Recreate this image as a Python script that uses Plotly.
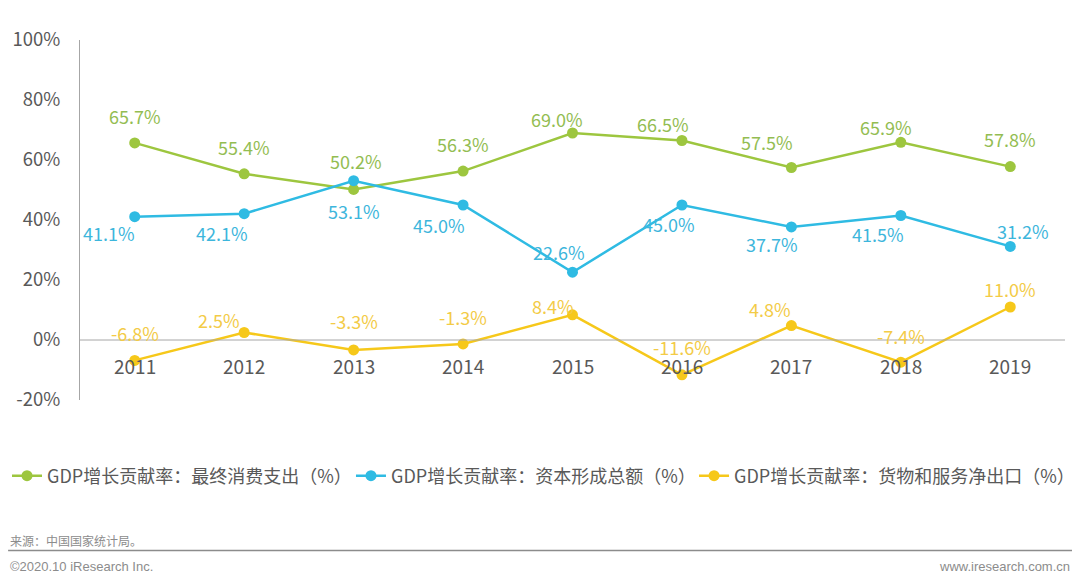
import plotly.graph_objects as go

years = ["2011", "2012", "2013", "2014", "2015", "2016", "2017", "2018", "2019"]
consumption = [65.7, 55.4, 50.2, 56.3, 69.0, 66.5, 57.5, 65.9, 57.8]
capital = [41.1, 42.1, 53.1, 45.0, 22.6, 45.0, 37.7, 41.5, 31.2]
net_export = [-6.8, 2.5, -3.3, -1.3, 8.4, -11.6, 4.8, -7.4, 11.0]
names = ["GDP增长贡献率：最终消费支出（%）", "GDP增长贡献率：资本形成总额（%）", "GDP增长贡献率：货物和服务净出口（%）"]
ytick_vals = [-20, 0, 20, 40, 60, 80, 100]
ytick_text = ["-20%", "0%", "20%", "40%", "60%", "80%", "100%"]

FONT = "Noto Sans CJK SC"
line_colors = ["#9DC63F", "#2FBBE3", "#F6C81A"]
text_colors = ["#93BD52", "#3DB6DC", "#F3CB47"]

# label offsets (xshift, yshift) per series per point
offsets = [
    [(0, 27), (0, 27), (2, 28), (0, 27), (-16, 14), (-19, 17), (-24, 26), (-15, 15), (0, 28)],
    [(-26, -16), (-22, -19), (0, -30), (-24, -20), (-14, 20), (-13, -19), (-19, -17), (-23, -18), (13, 15)],
    [(0, 27), (-25, 13), (0, 29), (0, 27), (-20, 9), (0, 28), (-21, 17), (0, 26), (0, 18)],
]

legend_ids = ["legend", "legend2", "legend3"]
legend_x = [-0.0741, 0.2751, 0.6234]

fig = go.Figure()
for i, series in enumerate([consumption, capital, net_export]):
    fig.add_trace(go.Scatter(
        x=years, y=series, mode="lines+markers", name=names[i],
        line=dict(color=line_colors[i], width=2.5),
        marker=dict(color=line_colors[i], size=11),
        legend=legend_ids[i],
    ))
    for j, v in enumerate(series):
        dx, dy = offsets[i][j]
        fig.add_annotation(x=j, y=v, xref="x", yref="y", text=f"{v:.1f}%",
                           showarrow=False, xshift=dx, yshift=dy,
                           font=dict(family=FONT, size=18, color=text_colors[i]))

# x category labels below zero line
for j, yr in enumerate(years):
    fig.add_annotation(x=j, y=0, xref="x", yref="y", text=yr, showarrow=False,
                       yshift=-25, font=dict(family=FONT, size=19, color="#595959"))

# zero line
fig.add_shape(type="line", xref="paper", yref="y", x0=0, x1=1, y0=0, y1=0,
              line=dict(color="#A6A6A6", width=1))

# footer
fig.add_annotation(xref="paper", yref="paper", x=-0.073, y=-0.389, xanchor="left", yanchor="middle",
                   text="来源：中国国家统计局。", showarrow=False,
                   font=dict(family=FONT, size=12, color="#8C8C8C"))
fig.add_shape(type="line", xref="paper", yref="paper", x0=-0.073, x1=1.0071, y0=-0.418, y1=-0.418,
              line=dict(color="#8C8C8C", width=1.5))
fig.add_annotation(xref="paper", yref="paper", x=-0.073, y=-0.462, xanchor="left", yanchor="middle",
                   text="©2020.10 iResearch Inc.", showarrow=False,
                   font=dict(family="Liberation Sans", size=13, color="#8C8C8C"))
fig.add_annotation(xref="paper", yref="paper", x=1.0071, y=-0.462, xanchor="right", yanchor="middle",
                   text="www.iresearch.com.cn", showarrow=False,
                   font=dict(family="Liberation Sans", size=13, color="#8C8C8C"))

legend_style = dict(orientation="h", y=-0.211, xanchor="left", yanchor="middle",
                    font=dict(family=FONT, size=18, color="#595959"), itemwidth=30,
                    itemclick=False, bgcolor="rgba(0,0,0,0)")

fig.update_layout(
    width=1072, height=578,
    margin=dict(l=72, r=15, t=32, b=186, autoexpand=False),
    paper_bgcolor="white", plot_bgcolor="white",
    font=dict(family=FONT, color="#595959"),
    showlegend=True,
    legend=dict(x=legend_x[0], **legend_style),
    legend2=dict(x=legend_x[1], **legend_style),
    legend3=dict(x=legend_x[2], **legend_style),
    xaxis=dict(type="category", range=[-0.5, 8.5], showticklabels=False, showgrid=False,
               zeroline=False, showline=False, ticks="", automargin=False),
    yaxis=dict(range=[-20, 100], tickvals=ytick_vals, ticktext=ytick_text, showgrid=False,
               zeroline=False, showline=True, linecolor="#A6A6A6", linewidth=1, ticks="",
               ticklabelstandoff=15, automargin=False,
               tickfont=dict(family=FONT, size=18.5, color="#595959")),
)

fig.write_html("out.html")
